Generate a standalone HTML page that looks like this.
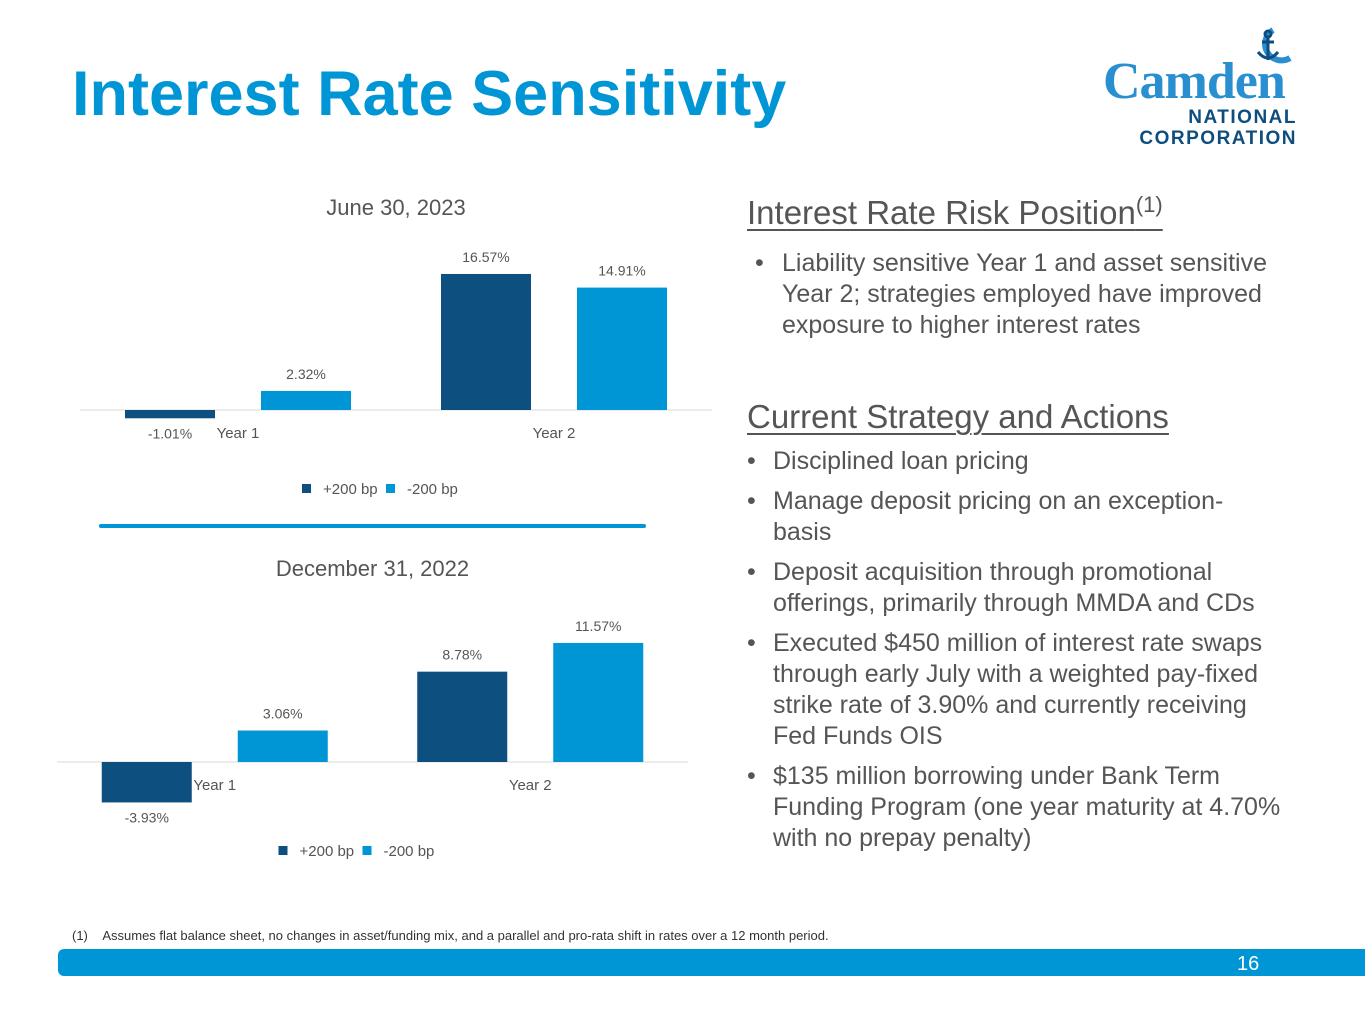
<!DOCTYPE html>
<html><head><meta charset="utf-8"><style>
body{margin:0;width:1365px;height:1024px;background:#fff;font-family:"Liberation Sans",sans-serif;position:relative;overflow:hidden}
.abs{position:absolute}
h1{position:absolute;left:72px;top:58px;margin:0;font-size:63px;font-weight:bold;color:#0096d6;letter-spacing:0px}
.hd{color:#555;font-size:33px;text-decoration:underline;text-decoration-thickness:2px;text-underline-offset:5px}
ul{margin:0;padding:0;list-style:none}
li{position:relative;padding-left:26px;font-size:25px;color:#555;line-height:31px;margin-bottom:9px}
li:before{content:"•";position:absolute;left:0}
</style></head><body>
<h1>Interest Rate Sensitivity</h1>
<div class="abs" style="left:1100px;top:22px;width:200px;height:125px">
<svg width="200" height="50" style="position:absolute;left:0;top:0"><path d="M173 8 A16 16 0 1 0 190 36" fill="none" stroke="#2a8fd0" stroke-width="6"/><g stroke="#0d4e7f" stroke-width="3" fill="none"><circle cx="168" cy="12" r="3"/><line x1="168" y1="15" x2="168" y2="38"/><line x1="162" y1="20" x2="174" y2="20"/><path d="M158 30 Q168 42 178 30"/></g></svg>
<div class="abs" style="left:3px;top:30px;font-family:'Liberation Serif',serif;font-size:52px;font-weight:bold;color:#2a8fd0;letter-spacing:-1px">Camden</div>
<div class="abs" style="right:3px;top:85px;font-size:19px;font-weight:bold;color:#0d4e7f;letter-spacing:1.5px;text-align:right;line-height:21px">NATIONAL<br>CORPORATION</div>
</div>
<svg id="charts" class="abs" style="left:0;top:0" width="720" height="900"></svg>
<div class="abs" style="left:99px;top:524px;width:547px;height:4px;background:#0096d6;border-radius:2px"></div>
<div class="abs" style="left:747px;top:192px;width:548px">
<div class="hd">Interest Rate Risk Position<sup style="font-size:22px">(1)</sup></div>
<ul style="margin-top:16px;padding-left:8px"><li style="padding-left:27px">Liability sensitive Year 1 and asset sensitive Year 2; strategies employed have improved exposure to higher interest rates</li></ul>
<div class="hd" style="margin-top:57px">Current Strategy and Actions</div>
<ul style="margin-top:10px">
<li>Disciplined loan pricing</li>
<li>Manage deposit pricing on an exception-<br>basis</li>
<li>Deposit acquisition through promotional offerings, primarily through MMDA and CDs</li>
<li>Executed $450 million of interest rate swaps through early July with a weighted pay-fixed strike rate of 3.90% and currently receiving Fed Funds OIS</li>
<li>$135 million borrowing under Bank Term Funding Program (one year maturity at 4.70% with no prepay penalty)</li>
</ul></div>
<div class="abs" style="left:72px;top:928px;font-size:13px;color:#333">(1)&nbsp;&nbsp;&nbsp;&nbsp;Assumes flat balance sheet, no changes in asset/funding mix, and a parallel and pro-rata shift in rates over a 12 month period.</div>
<div class="abs" style="left:58px;top:949px;width:1307px;height:27px;background:#0096d6;border-radius:6px 0 0 6px"></div>
<div class="abs" style="left:1237px;top:953px;font-size:20px;color:#fff">16</div>
<script>
const categories=["Year 1","Year 2"];
const seriesNames=["+200 bp","-200 bp"];
const june2023Up=[-1.01,16.57];
const june2023Down=[2.32,14.91];
const dec2022Up=[-3.93,8.78];
const dec2022Down=[3.06,11.57];
const colors=["#0d4f7f","#0096d6"];
const NS="http://www.w3.org/2000/svg";
const svg=document.getElementById('charts');
function mk(t,a,p){const e=document.createElementNS(NS,t);for(const k in a)e.setAttribute(k,a[k]);(p||svg).appendChild(e);return e;}
function chart(name,title,titleY,axL,axR,base,scale,up,down,legY){
 const g=mk('g',{});
 
 
 const t=mk('text',{x:(axL+axR)/2,y:titleY,'text-anchor':'middle','font-size':22,fill:'#555','font-family':'Liberation Sans'},g);t.textContent=title;
 
 
 mk('line',{x1:axL,x2:axR,y1:base,y2:base,stroke:'#d9d9d9','stroke-width':1},g);
 const cw=(axR-axL)/categories.length;
 const yv=v=>base-v*scale;
 [up,down].forEach((arr,s)=>{arr.forEach((v,i)=>{
  const cx=axL+cw*(i+0.5);const x=cx+(s===0?-113:23);
  const r=mk('rect',{x:x,y:Math.min(yv(v),base),width:90,height:Math.abs(v*scale),fill:colors[s]},g);
  
  
  const lt=mk('text',{x:x+45,y:v>=0?yv(v)-12:yv(v)+20,'text-anchor':'middle','font-size':14,fill:'#555','font-family':'Liberation Sans'},g);lt.textContent=v.toFixed(2)+'%';
  
  
 });});
 categories.forEach((c,i)=>{const ct=mk('text',{x:axL+cw*(i+0.5),y:base+28,'text-anchor':'middle','font-size':15,fill:'#555','font-family':'Liberation Sans'},g);ct.textContent=c;
  
  });
 const lx=(axL+axR)/2-94;
 seriesNames.forEach((n,s)=>{const ox=lx+s*84;
  mk('rect',{x:ox,y:legY-5,width:9,height:9,fill:colors[s]},g);
  const lt=mk('text',{x:ox+21,y:legY+5,'font-size':15,fill:'#555','font-family':'Liberation Sans'},g);lt.textContent=n;
  
  });
}
chart('june-2023-chart','June 30, 2023',215,80,712,410,8.21,june2023Up,june2023Down,489);
chart('dec-2022-chart','December 31, 2022',576,57,688,762,10.29,dec2022Up,dec2022Down,851);
</script>
</body></html>
